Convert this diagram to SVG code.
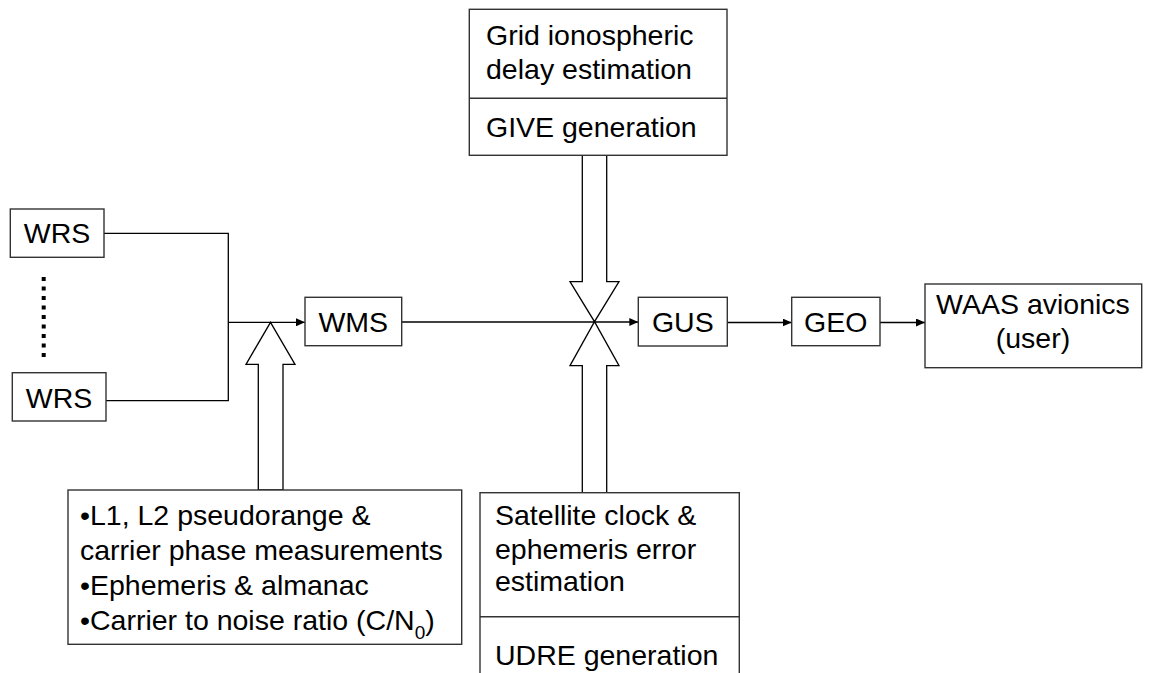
<svg xmlns="http://www.w3.org/2000/svg" width="1155" height="673" viewBox="0 0 1155 673">
<defs>
<marker id="ah" markerWidth="10" markerHeight="8" refX="9" refY="4" orient="auto" markerUnits="userSpaceOnUse">
<path d="M0,0 L9,4 L0,8 Z" fill="#000"/>
</marker>
<style>
.box{fill:#fff;stroke:#333;stroke-width:1.4}
.ln{fill:none;stroke:#000;stroke-width:1.3}
.big{fill:#fff;stroke:#000;stroke-width:1.3}
text{font-family:"Liberation Sans",Arial,sans-serif;font-size:28.5px;fill:#000}
.c{text-anchor:middle}
</style>
</defs>
<rect width="1155" height="673" fill="#fff"/>

<g id="connectors">
<polyline class="ln" points="100,233.3 228.3,233.3 228.3,400.7 101,400.7"/>
<line class="ln" x1="228.3" y1="322.3" x2="305" y2="322.3" marker-end="url(#ah)"/>
<line class="ln" x1="397" y1="322" x2="638.3" y2="322" marker-end="url(#ah)"/>
<line class="ln" x1="723" y1="322.5" x2="791.7" y2="322.5" marker-end="url(#ah)"/>
<line class="ln" x1="876" y1="322.5" x2="925" y2="322.5" marker-end="url(#ah)"/>
<line x1="43.7" y1="277" x2="43.7" y2="358" stroke="#000" stroke-width="4" stroke-dasharray="4 5.5"/>
<polygon class="big" points="258.3,490 258.3,364.3 246,364.3 270.5,322.3 295,364.3 283,364.3 283,490"/>
<polygon class="big" points="582.3,155.3 582.3,281.7 570,281.7 594.5,321.7 619,281.7 606.7,281.7 606.7,155.3"/>
<polygon class="big" points="582.3,492.7 582.3,365.7 570,365.7 594.5,321.7 619,365.7 606.7,365.7 606.7,492.7"/>
</g>

<g id="wrs1">
<rect class="box" x="10.3" y="209" width="93.7" height="48.3"/>
<text class="c" x="57" y="243.3">WRS</text>
</g>
<g id="wrs2">
<rect class="box" x="12.3" y="372.7" width="93.7" height="48.3"/>
<text class="c" x="59" y="407.5">WRS</text>
</g>
<g id="wms">
<rect class="box" x="305" y="297.3" width="96.7" height="48.4"/>
<text class="c" x="353.3" y="332">WMS</text>
</g>
<g id="gus">
<rect class="box" x="638.3" y="297.3" width="89" height="48.7"/>
<text class="c" x="682.8" y="332">GUS</text>
</g>
<g id="geo">
<rect class="box" x="791.7" y="297.3" width="88.3" height="48.4"/>
<text class="c" x="835.8" y="332">GEO</text>
</g>
<g id="waas">
<rect class="box" x="925" y="284" width="216.7" height="83.7"/>
<text class="c" x="1033" y="313.5">WAAS avionics</text>
<text class="c" x="1033" y="347.5">(user)</text>
</g>
<g id="give">
<rect class="box" x="469.3" y="9.3" width="257.7" height="146"/>
<line class="box" x1="469.3" y1="98.3" x2="727" y2="98.3"/>
<text x="486" y="45">Grid ionospheric</text>
<text x="486" y="79">delay estimation</text>
<text x="486" y="137">GIVE generation</text>
</g>
<g id="measurements">
<rect class="box" x="68" y="490" width="393.7" height="154.3"/>
<text x="80" y="525">•L1, L2 pseudorange &amp;</text>
<text x="80" y="560">carrier phase measurements</text>
<text x="80" y="595">•Ephemeris &amp; almanac</text>
<text x="80" y="630">•Carrier to noise ratio (C/N<tspan dy="9" font-size="19">0</tspan><tspan dy="-9">)</tspan></text>
</g>
<g id="udre">
<rect class="box" x="480" y="492.7" width="259.3" height="200"/>
<line class="box" x1="480" y1="616.7" x2="739.3" y2="616.7"/>
<text x="495" y="525">Satellite clock &amp;</text>
<text x="495" y="559">ephemeris error</text>
<text x="495" y="591">estimation</text>
<text x="495" y="665">UDRE generation</text>
</g>
</svg>
